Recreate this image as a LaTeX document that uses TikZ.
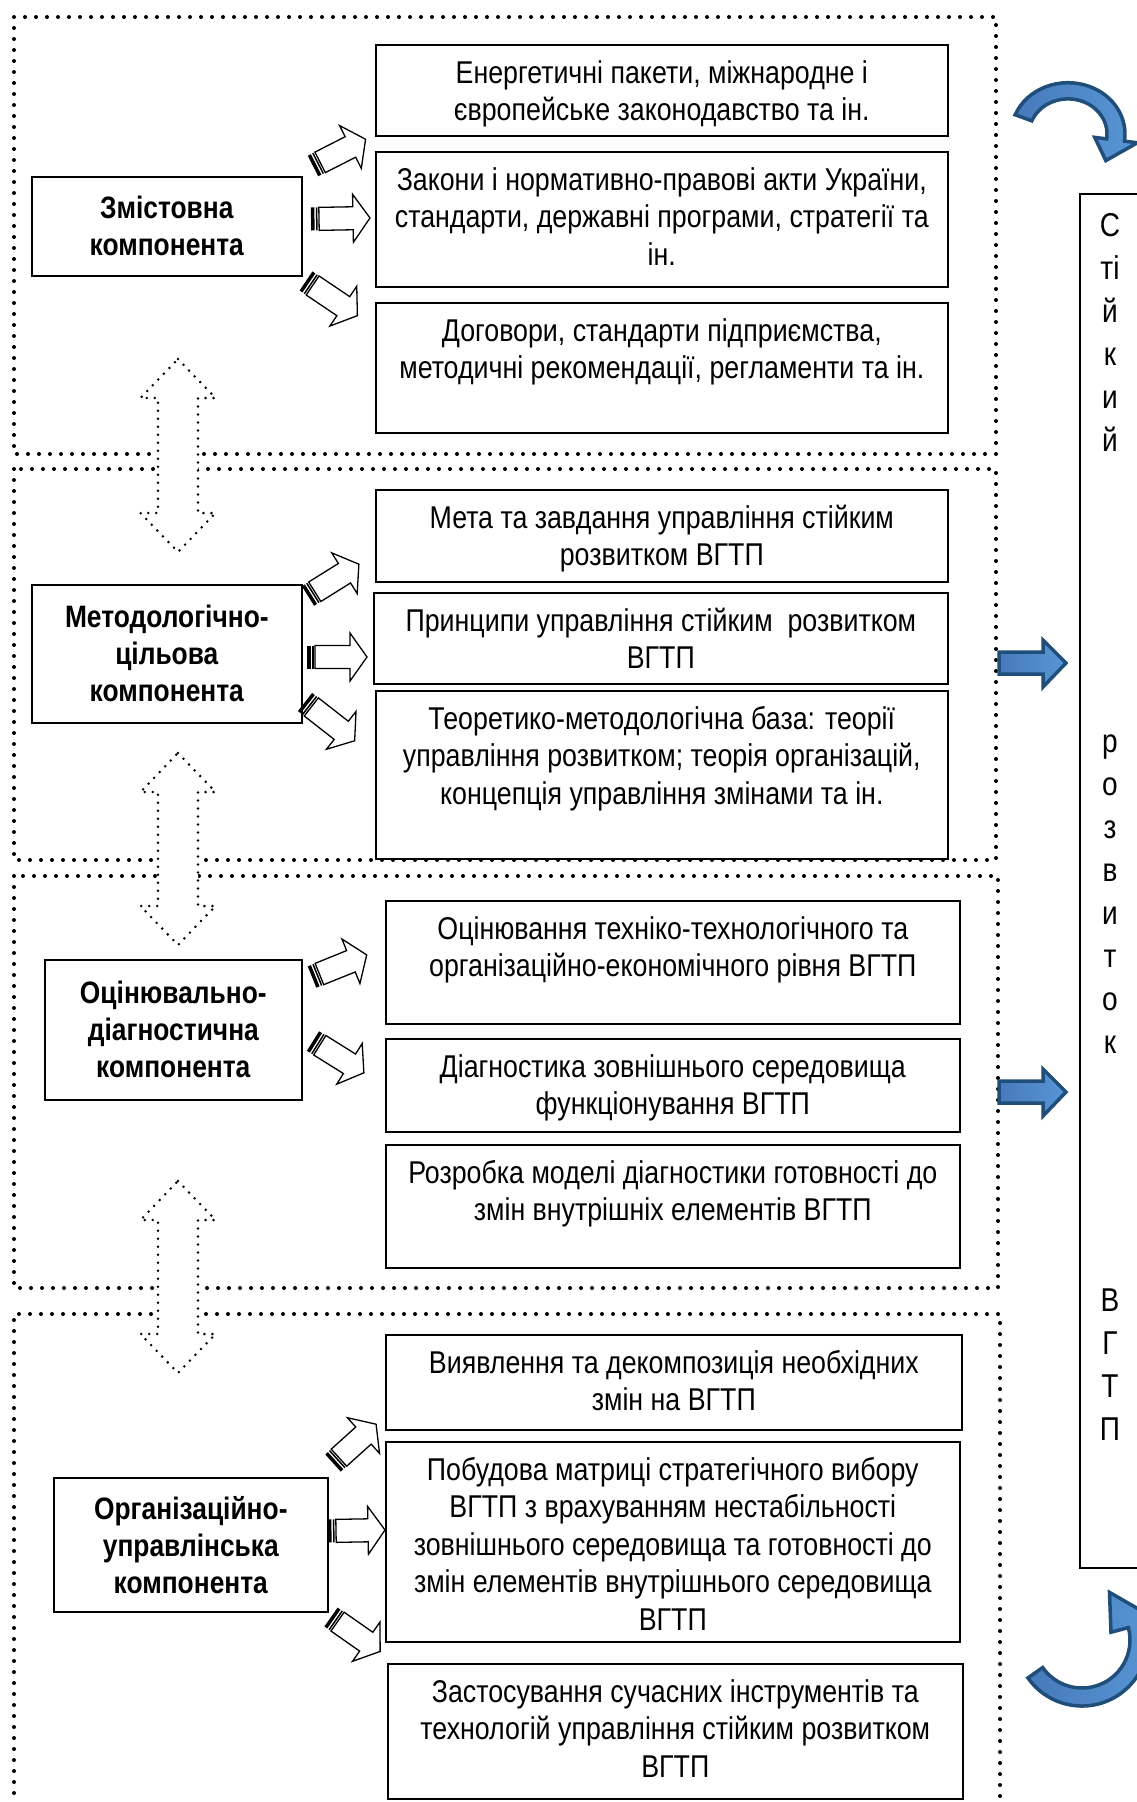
\documentclass[tikz,border=0pt]{standalone}
\usepackage{fontspec}
\setmainfont[FakeStretch=0.85]{Liberation Sans}
\definecolor{bfill}{RGB}{88,150,214}
\definecolor{bdark}{RGB}{70,122,186}
\definecolor{bedge}{RGB}{32,78,122}
\newcommand{\fst}{\rule{0pt}{24pt}}
\newcommand{\blockarr}[3]{%
  \begin{scope}[shift={#1}, rotate=#2]
    \fill (0,-11.5) rectangle (3.5,11.5);
    \fill (5,-11.5) rectangle (6.5,11.5);
    \draw[line width=1.3pt, fill=white, line join=miter]
      (8,-11.5) -- ({#3-17},-11.5) -- ({#3-17},-24) -- (#3,0) -- ({#3-17},24) -- ({#3-17},11.5) -- (8,11.5) -- cycle;
  \end{scope}}
\newcommand{\dblarr}[3]{%
  \draw[dblarrow] (#1,#2) -- ({#1+37.5},{#2+39}) -- ({#1+20},{#2+39}) -- ({#1+20},{#3-39})
    -- ({#1+37.5},{#3-39}) -- (#1,#3) -- ({#1-37.5},{#3-39}) -- ({#1-20},{#3-39})
    -- ({#1-20},{#2+39}) -- ({#1-37.5},{#2+39}) -- cycle;}
\tikzset{
  frame/.style={line width=4pt, dash pattern=on 0pt off 11pt, line cap=round},
  dblarrow/.style={line width=2.8pt, dash pattern=on 0pt off 8pt, line cap=round, fill=white},
  rbox/.style={draw, line width=1.6pt, inner sep=0pt, anchor=north west},
  lbox/.style={draw, line width=1.6pt, inner sep=0pt, anchor=north west, align=center,
    font=\fontsize{31}{37}\selectfont\bfseries},
  rtext/.style={anchor=north, inner sep=0pt, align=center, font=\fontsize{31.5}{37.5}\selectfont},
  barrow/.style={left color=bdark, right color=bfill, draw=bedge, line width=3.5pt, line join=miter},
}
\begin{document}
\begin{tikzpicture}[x=1pt, y=-1pt]
\useasboundingbox[fill=white] (0,0) rectangle (1136,1802);

% dotted frames
\draw[frame] (14,17) rectangle (996,454);
\draw[frame] (14,469) rectangle (996,860);
\draw[frame] (14,876) rectangle (998,1288);
\draw[frame] (1000,1840) -- (1000,1314) -- (14,1314) -- (14,1840);

% double arrows between frames
\dblarr{178}{359}{552}
\dblarr{178}{753}{945}
\dblarr{178}{1181}{1373}

% left boxes
\node[lbox, minimum width=270pt, minimum height=99pt] (l1) at (31,176) {Змістовна\\компонента};
\node[lbox, minimum width=270pt, minimum height=138pt] (l2) at (31,584) {Методологічно-\\цільова\\компонента};
\node[lbox, minimum width=257pt, minimum height=140pt] (l3) at (44,959) {Оцінювально-\\діагностична\\компонента};
\node[lbox, minimum width=274pt, minimum height=134pt] (l4) at (53,1477) {Організаційно-\\управлінська\\компонента};

% right boxes
\node[rbox, minimum width=572pt, minimum height=91pt] (r1) at (375,44) {};
\node[rbox, minimum width=572pt, minimum height=135pt] (r2) at (375,151) {};
\node[rbox, minimum width=572pt, minimum height=130pt] (r3) at (375,302) {};
\node[rbox, minimum width=572pt, minimum height=92pt] (r4) at (375,489) {};
\node[rbox, minimum width=574pt, minimum height=91pt] (r5) at (373,592) {};
\node[rbox, minimum width=572pt, minimum height=168pt] (r6) at (375,690) {};
\node[rbox, minimum width=574pt, minimum height=123pt] (r7) at (385,900) {};
\node[rbox, minimum width=574pt, minimum height=93pt] (r8) at (385,1038) {};
\node[rbox, minimum width=574pt, minimum height=123pt] (r9) at (385,1144) {};
\node[rbox, minimum width=576pt, minimum height=95pt] (r10) at (385,1334) {};
\node[rbox, minimum width=574pt, minimum height=200pt] (r11) at (385,1441) {};
\node[rbox, minimum width=575pt, minimum height=135pt] (r12) at (387,1663) {};

\node[rtext] (t1) at ([yshift=-15pt]r1.north) {\fst Енергетичні пакети, міжнародне і\\європейське законодавство та ін.};
\node[rtext] (t2) at ([yshift=-15pt]r2.north) {\fst Закони і нормативно-правові акти України,\\стандарти, державні програми, стратегії та\\ін.};
\node[rtext] (t3) at ([yshift=-15pt]r3.north) {\fst Договори, стандарти підприємства,\\методичні рекомендації, регламенти та ін.};
\node[rtext] (t4) at ([yshift=-15pt]r4.north) {\fst Мета та завдання управління стійким\\розвитком ВГТП};
\node[rtext] (t5) at ([yshift=-15pt]r5.north) {\fst Принципи управління стійким\ \ розвитком\\ВГТП};
\node[rtext] (t6) at ([yshift=-15pt]r6.north) {\fst Теоретико-методологічна база: теорії\\управління розвитком; теорія організацій,\\концепція управління змінами та ін.};
\node[rtext] (t7) at ([yshift=-15pt]r7.north) {\fst Оцінювання техніко-технологічного та\\організаційно-економічного рівня ВГТП};
\node[rtext] (t8) at ([yshift=-15pt]r8.north) {\fst Діагностика зовнішнього середовища\\функціонування ВГТП};
\node[rtext] (t9) at ([yshift=-15pt]r9.north) {\fst Розробка моделі діагностики готовності до\\змін внутрішніх елементів ВГТП};
\node[rtext] (t10) at ([yshift=-15pt]r10.north) {\fst Виявлення та декомпозиція необхідних\\змін на ВГТП};
\node[rtext] (t11) at ([yshift=-15pt]r11.north) {\fst Побудова матриці стратегічного вибору\\ВГТП з врахуванням нестабільності\\зовнішнього середовища та готовності до\\змін елементів внутрішнього середовища\\ВГТП};
\node[rtext] (t12) at ([yshift=-15pt]r12.north) {\fst Застосування сучасних інструментів та\\технологій управління стійким розвитком\\ВГТП};

% striped block arrows
\blockarr{(313,166)}{27}{59}
\blockarr{(311,219)}{1}{59}
\blockarr{(306,281)}{-34}{62}
\blockarr{(308,596)}{32}{60}
\blockarr{(307,657)}{0}{60}
\blockarr{(305,702)}{-38}{63}
\blockarr{(312,977)}{22}{59}
\blockarr{(313,1041)}{-32}{60}
\blockarr{(333,1463)}{42}{58}
\blockarr{(328,1531)}{1}{57}
\blockarr{(331,1617)}{-35}{60}

% tall right box
\node[rbox, minimum width=90pt, minimum height=1374pt] (vb) at (1079,193) {};
\node[anchor=north, inner sep=0pt, align=center, font=\fontsize{33}{43}\selectfont] (vt) at (1110,211.5)
  {\rule{0pt}{25pt}С\\ті\\й\\к\\и\\й\\[258pt]р\\о\\з\\в\\и\\т\\о\\к\\[215pt]В\\Г\\Т\\П};

% blue straight arrows
\draw[barrow] (999,652) -- (1043,652) -- (1043,640) -- (1066,663) -- (1043,687) -- (1043,674) -- (999,674) -- cycle;
\draw[barrow] (999,1081) -- (1043,1081) -- (1043,1069) -- (1066,1092) -- (1043,1116) -- (1043,1103) -- (999,1103) -- cycle;

% blue curved arrows
\begin{scope}[shift={(1068,134)}, y=1pt, yscale=0.9]
  \draw[barrow] (158:57) arc[start angle=158, end angle=-8, radius=57] -- (-8:70) -- (-38:48) -- (-8:27)
     -- (-8:39) arc[start angle=-8, end angle=158, radius=39] -- cycle;
\end{scope}
\begin{scope}[shift={(1082,1640)}, y=1pt]
  \draw[barrow] (215:66) arc[start angle=215, end angle=375, radius=66] -- (15:78) -- (60:55) -- (15:30)
     -- (15:48) arc[start angle=375, end angle=215, radius=48] -- cycle;
\end{scope}
\end{tikzpicture}
\end{document}
